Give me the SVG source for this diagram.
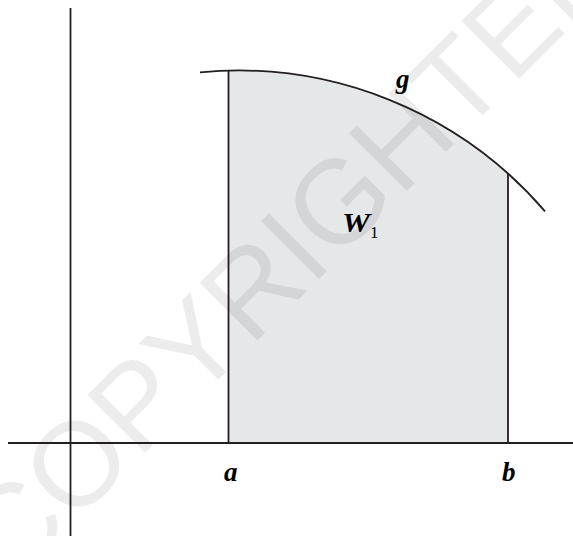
<svg xmlns="http://www.w3.org/2000/svg" width="573" height="536" viewBox="0 0 573 536">
  <style>
    .ln { fill: none; stroke: #231f20; stroke-width: 1.8; }
    .lbl { font-family: "Liberation Serif", "DejaVu Serif", serif; font-style: italic; font-weight: bold; font-size: 27px; fill: #000; }
    .sub { font-family: "Liberation Serif", "DejaVu Serif", serif; font-size: 17px; fill: #000; }
    .wm { font-family: "Liberation Sans", Arial, sans-serif; font-size: 119px; fill: #000; fill-opacity: 0.075; }
  </style>
  <rect width="573" height="536" fill="#ffffff"/>
  <g id="region">
    <path d="M228.5,443 L228.5,70.6 A405,405 0 0 1 508,173.6 L508,443 Z" fill="#e6e7e8"/>
  </g>
  <text class="wm" transform="translate(12,586) rotate(-45)">COPYRIGHTED</text>
  <g id="connectors">
    <line id="y-axis" class="ln" x1="70.5" y1="8" x2="70.5" y2="536"/>
    <line id="x-axis" class="ln" x1="8" y1="443" x2="573" y2="443"/>
    <line id="line-a" class="ln" stroke-width="2.2" x1="228.5" y1="70.6" x2="228.5" y2="443"/>
    <line id="line-b" class="ln" stroke-width="2.2" x1="508" y1="173.6" x2="508" y2="443"/>
    <line id="base" class="ln" stroke-width="2.2" x1="228.5" y1="443" x2="508" y2="443"/>
    <path id="curve-g" class="ln" stroke-width="2" d="M200,72.3 A405,405 0 0 1 545,211.3"/>
  </g>
  <g id="label-g"><text class="lbl" x="396" y="88">g</text></g>
  <g id="label-W1"><text class="lbl" x="342" y="232" textLength="28" lengthAdjust="spacingAndGlyphs">W</text><text class="sub" x="370" y="238">1</text></g>
  <g id="label-a"><text class="lbl" x="224" y="481">a</text></g>
  <g id="label-b"><text class="lbl" x="502" y="481">b</text></g>
</svg>
